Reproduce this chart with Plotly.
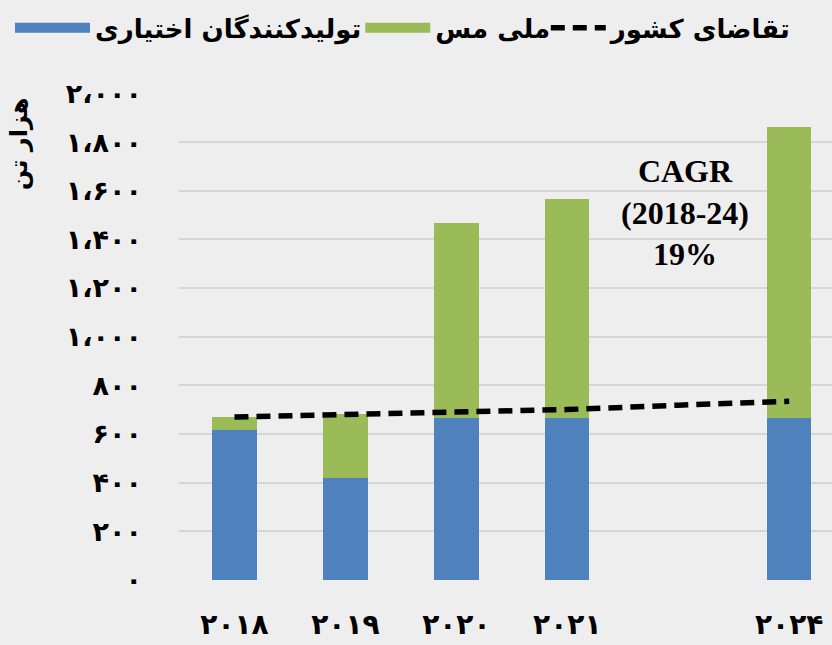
import plotly.graph_objects as go

# ---- data ----
categories = ["2018", "2019", "2020", "2021", "gap", "2024"]
x_labels = ["۲۰۱۸", "۲۰۱۹", "۲۰۲۰", "۲۰۲۱", "", "۲۰۲۴"]
optional_producers = [614, 420, 666, 666, None, 666]      # blue
nicico = [56, 262, 802, 900, None, 1198]                  # green
demand = [669, 680, 690, 700, 718, 734]                   # dashed line
y_ticks = [0, 200, 400, 600, 800, 1000, 1200, 1400, 1600, 1800, 2000]
y_tick_labels = ["۰", "۲۰۰", "۴۰۰", "۶۰۰", "۸۰۰", "۱،۰۰۰", "۱،۲۰۰",
                 "۱،۴۰۰", "۱،۶۰۰", "۱،۸۰۰", "۲،۰۰۰"]
series_names = ["تولیدکنندگان اختیاری", "ملی مس", "تقاضای کشور"]
colors = ["#4f81bd", "#9bbb59", "black"]

BG = "#eeeeee"
FONT = "DejaVu Sans"
LEG_FONT = dict(family=FONT, size=26, color="black", weight="bold")

fig = go.Figure()
fig.add_trace(go.Bar(x=categories, y=optional_producers, name=series_names[0],
                     marker=dict(color=colors[0], line=dict(width=0)),
                     legendgroup="a", showlegend=False))
fig.add_trace(go.Bar(x=categories, y=nicico, name=series_names[1],
                     marker=dict(color=colors[1], line=dict(width=0)),
                     legendgroup="b", showlegend=False))
# legend swatches for the bar series (wide rectangles like the original)
fig.add_trace(go.Scatter(x=[None], y=[None], mode="lines", name=series_names[0],
                         legendgroup="a", legend="legend",
                         line=dict(color=colors[0], width=18), hoverinfo="skip"))
fig.add_trace(go.Scatter(x=[None], y=[None], mode="lines", name=series_names[1],
                         legendgroup="b", legend="legend2",
                         line=dict(color=colors[1], width=18), hoverinfo="skip"))
fig.add_trace(go.Scatter(x=categories, y=demand, name=series_names[2], mode="lines",
                         legend="legend3",
                         line=dict(color=colors[2], width=5.5, dash="14px,8px")))

def leg(x, w):
    return dict(orientation="h", xref="container", yref="container",
                x=x, xanchor="left", y=0.957, yanchor="middle",
                font=LEG_FONT, itemwidth=w, bgcolor="rgba(0,0,0,0)",
                itemclick=False, itemdoubleclick=False)

fig.update_layout(
    width=832, height=645,
    barmode="stack", bargap=0.6,
    paper_bgcolor=BG, plot_bgcolor=BG,
    margin=dict(l=179, r=0, t=93, b=65, autoexpand=False),
    font=dict(family=FONT, color="black"),
    showlegend=True,
    legend=leg(0.012, 75),
    legend2=leg(0.433, 65),
    legend3=leg(0.656, 55),
    xaxis=dict(type="category", categoryorder="array", categoryarray=categories,
               range=[-0.5, 5.386], tickmode="array", tickvals=categories,
               ticktext=x_labels, showgrid=False, ticks="", ticklabelstandoff=25,
               tickfont=dict(family=FONT, size=28, color="black", weight="bold"),
               showline=False, zeroline=False, fixedrange=True),
    yaxis=dict(range=[-1, 2002], tickmode="array", tickvals=y_ticks,
               ticktext=y_tick_labels, showgrid=True, gridcolor="#d6d6d6",
               gridwidth=2, zeroline=False, ticks="", ticklabelstandoff=36,
               tickfont=dict(family=FONT, size=27, color="black", weight="bold"),
               showline=False),
    annotations=[
        dict(text="CAGR<br>(2018-24)<br>19%", xref="paper", yref="paper",
             x=0.775, y=0.755, showarrow=False, xanchor="center", yanchor="middle",
             font=dict(family="Liberation Serif", size=32, color="black", weight="bold")),
        dict(text="هزار تن", xref="paper", yref="paper", x=-0.245, y=0.895,
             textangle=-90, showarrow=False, xanchor="center", yanchor="middle",
             font=dict(family=FONT, size=24, color="black", weight="bold")),
    ],
)

fig.write_html("out.html", config={"displayModeBar": False},
               post_script="document.body.style.margin='0px';")
